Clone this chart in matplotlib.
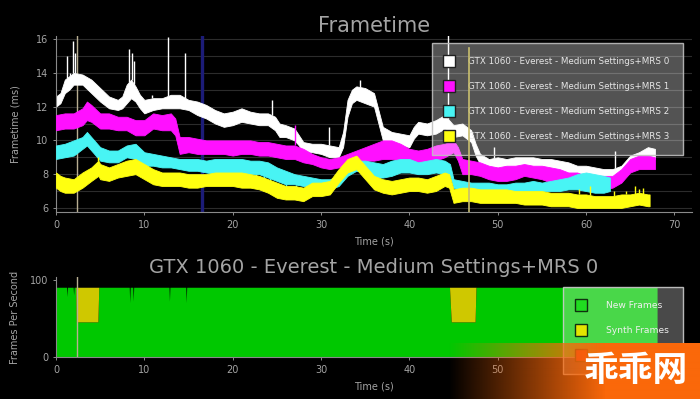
import numpy as np
import matplotlib.pyplot as plt
from matplotlib.lines import Line2D

# ---- frametime traces (ms): lower / upper envelope of each noisy trace ----
series_names = ['GTX 1060 - Everest - Medium Settings+MRS 0',
                'GTX 1060 - Everest - Medium Settings+MRS 1',
                'GTX 1060 - Everest - Medium Settings+MRS 2',
                'GTX 1060 - Everest - Medium Settings+MRS 3']

t_mrs0 = [0, 0.5, 1, 1.5, 2, 3, 4, 5, 6, 7,
          7.5, 8, 8.5, 9, 9.5, 10, 11, 12, 13, 14,
          15, 16, 17, 18, 19, 20, 21, 22, 23, 24,
          24.8, 25.3, 26, 27, 27.5, 28, 29, 30, 31, 32,
          32.5, 33, 33.5, 34, 35, 36, 36.5, 37, 38, 39,
          40, 40.5, 41, 42, 43, 44, 45, 46, 47, 47.5,
          48, 49, 50, 51, 52, 53, 54, 55, 56, 57,
          58, 59, 60, 61, 62, 63, 64, 65, 66, 67,
          67.8]
hi_mrs0 = [12.6, 12.8, 13.6, 13.8, 14.0, 13.9, 13.6, 13.1, 12.6, 12.4,
           12.6, 13.3, 13.6, 13.2, 12.7, 12.4, 12.5, 12.5, 12.7, 12.7,
           12.4, 12.3, 12.1, 11.8, 11.6, 11.7, 11.9, 11.7, 11.6, 11.6,
           11.4, 11.0, 10.9, 10.7, 10.3, 9.9, 9.8, 9.8, 9.7, 9.6,
           10.5, 12.4, 13.0, 13.2, 13.1, 12.8, 11.8, 10.8, 10.5, 10.4,
           10.3, 10.8, 11.1, 11.0, 11.2, 11.5, 10.9, 11.0, 10.6, 9.8,
           9.2, 8.9, 9.0, 8.9, 9.0, 9.0, 9.0, 8.9, 8.9, 8.8,
           8.7, 8.5, 8.5, 8.4, 8.3, 8.3, 8.5, 9.1, 9.3, 9.6,
           9.5]
lo_mrs0 = [12.0, 12.2, 12.8, 13.0, 13.3, 13.3, 12.8, 12.3, 11.9, 11.8,
           11.9, 12.2, 12.5, 12.3, 11.9, 11.6, 11.8, 11.9, 11.9, 11.9,
           11.8, 11.5, 11.3, 11.0, 10.8, 10.9, 11.1, 11.0, 10.9, 10.9,
           10.6, 10.2, 10.2, 10.0, 9.7, 9.3, 9.3, 9.2, 9.0, 9.0,
           9.6, 11.4, 12.2, 12.4, 12.2, 12.0, 11.0, 10.0, 9.8, 9.7,
           9.6, 10.1, 10.4, 10.3, 10.4, 10.7, 10.2, 10.3, 9.9, 9.1,
           8.6, 8.4, 8.3, 8.3, 8.4, 8.4, 8.3, 8.2, 8.2, 8.1,
           8.0, 7.9, 7.9, 7.8, 7.8, 7.8, 7.9, 8.4, 8.7, 9.0,
           8.9]
spike_t_mrs0 = [1.2, 1.6, 1.95, 2.2, 8.3, 8.55, 8.85, 10.9, 12.7, 14.6, 24.5, 30.9, 34.4, 44.4, 49.6, 63.3]
spike_v_mrs0 = [15.0, 14.0, 15.9, 15.2, 15.4, 15.2, 14.7, 12.7, 16.1, 15.2, 12.4, 10.8, 13.6, 16.3, 9.6, 9.4]

t_mrs1 = [0, 1, 2, 3, 3.5, 4, 5, 6, 7, 8,
          9, 10, 11, 12, 13, 13.5, 14, 15, 16, 17,
          18, 19, 20, 21, 22, 23, 24, 25, 26, 27,
          28, 29, 30, 31, 32, 33, 34, 35, 36, 37,
          38, 39, 40, 41, 42, 43, 44, 45, 45.5, 46,
          47, 48, 49, 50, 51, 52, 53, 54, 55, 56,
          57, 58, 59, 60, 61, 62, 63, 64, 65, 66,
          67, 67.8]
hi_mrs1 = [11.5, 11.6, 11.6, 11.9, 12.3, 12.1, 11.6, 11.6, 11.4, 11.4,
           11.2, 11.2, 11.6, 11.5, 11.6, 11.3, 10.2, 10.2, 10.1, 10.0,
           10.0, 10.0, 10.0, 10.0, 10.0, 9.9, 9.9, 9.8, 9.7, 9.7,
           9.5, 9.2, 9.0, 8.9, 9.0, 9.2, 9.4, 9.6, 9.8, 10.0,
           10.0, 9.8, 9.5, 9.4, 9.5, 9.7, 9.8, 10.0, 9.6, 8.9,
           8.8, 8.7, 8.5, 8.4, 8.5, 8.5, 8.6, 8.5, 8.5, 8.4,
           8.3, 8.1, 8.1, 7.9, 7.9, 7.9, 7.9, 8.3, 8.9, 9.1,
           9.1, 9.0]
lo_mrs1 = [10.6, 10.7, 10.7, 10.9, 11.2, 11.1, 10.7, 10.7, 10.6, 10.6,
           10.3, 10.3, 10.7, 10.6, 10.6, 10.3, 9.2, 9.3, 9.2, 9.2,
           9.2, 9.2, 9.1, 9.2, 9.2, 9.1, 9.1, 9.0, 8.9, 8.9,
           8.7, 8.6, 8.4, 8.3, 8.4, 8.6, 8.7, 8.8, 8.8, 8.9,
           8.9, 8.8, 8.5, 8.5, 8.7, 8.8, 9.0, 9.3, 8.8, 8.0,
           8.0, 7.9, 7.7, 7.6, 7.6, 7.7, 7.9, 7.8, 7.7, 7.5,
           7.5, 7.4, 7.3, 7.2, 7.2, 7.1, 7.2, 7.5, 8.1, 8.3,
           8.3, 8.3]
spike_t_mrs1 = [27.0]
spike_v_mrs1 = [10.9]

t_mrs2 = [0, 1, 2, 3, 3.5, 4, 5, 6, 7, 8,
          9, 10, 11, 12, 13, 14, 15, 16, 17, 18,
          19, 20, 21, 22, 23, 24, 25, 26, 27, 28,
          29, 30, 31, 32, 33, 34, 35, 36, 37, 38,
          39, 40, 41, 42, 43, 44, 44.6, 45, 46, 47,
          48, 49, 50, 51, 52, 53, 54, 55, 56, 57,
          58, 59, 60, 61, 62, 62.7]
hi_mrs2 = [9.7, 9.8, 10.0, 10.2, 10.5, 10.2, 9.6, 9.4, 9.4, 9.7,
           9.8, 9.3, 9.2, 9.1, 9.0, 8.9, 8.9, 8.9, 8.8, 8.9,
           8.9, 8.9, 8.9, 8.8, 8.8, 8.7, 8.4, 8.2, 8.0, 7.9,
           7.8, 7.7, 7.7, 7.9, 8.5, 8.8, 8.8, 8.7, 8.6, 8.8,
           8.9, 8.9, 8.7, 8.8, 8.9, 8.8, 8.6, 7.7, 7.6, 7.5,
           7.5, 7.5, 7.4, 7.4, 7.5, 7.5, 7.6, 7.5, 7.6, 7.7,
           7.8, 8.0, 8.1, 8.0, 7.9, 7.8]
lo_mrs2 = [8.9, 9.0, 9.1, 9.5, 9.7, 9.4, 8.8, 8.7, 8.7, 9.0,
           8.9, 8.5, 8.5, 8.4, 8.4, 8.3, 8.2, 8.2, 8.1, 8.0,
           8.0, 8.0, 8.0, 8.0, 8.0, 7.8, 7.6, 7.4, 7.4, 7.3,
           7.2, 7.1, 7.1, 7.3, 7.9, 8.2, 8.1, 7.8, 7.8, 7.9,
           8.1, 8.1, 8.0, 8.0, 8.1, 8.0, 7.9, 7.2, 7.0, 7.0,
           6.9, 6.9, 6.9, 6.9, 6.9, 7.0, 7.0, 7.0, 7.0, 7.0,
           7.1, 7.1, 7.0, 6.9, 6.9, 7.0]
spike_t_mrs2 = [20.5, 21.8, 22.6, 23.5, 24.2, 26.0, 27.2, 28.3]
spike_v_mrs2 = [7.6, 7.5, 7.6, 7.3, 7.2, 7.1, 7.2, 7.0]

t_mrs3 = [0, 0.5, 1, 2, 3, 4, 4.8, 5, 6, 7,
          8, 9, 10, 11, 12, 13, 14, 15, 16, 17,
          18, 19, 20, 21, 22, 23, 24, 25, 26, 27,
          28, 29, 30, 31, 32, 33, 34, 35, 36, 37,
          38, 39, 40, 41, 42, 43, 44, 44.5, 45, 46,
          47, 48, 49, 50, 51, 52, 53, 54, 55, 56,
          57, 58, 59, 60, 61, 62, 63, 64, 65, 66,
          67, 67.2]
hi_mrs3 = [8.1, 7.9, 7.8, 7.7, 8.1, 8.4, 8.8, 8.6, 8.4, 8.6,
           8.8, 8.9, 8.6, 8.3, 8.1, 8.1, 8.1, 8.0, 8.0, 8.0,
           8.1, 8.1, 8.1, 8.1, 8.0, 7.9, 7.7, 7.5, 7.3, 7.3,
           7.2, 7.5, 7.5, 7.6, 8.3, 8.9, 9.1, 8.5, 7.9, 7.7,
           7.6, 7.7, 7.8, 7.8, 7.7, 7.9, 8.1, 8.0, 7.1, 7.2,
           7.2, 7.1, 7.1, 7.1, 7.1, 7.0, 7.0, 7.0, 7.0, 6.9,
           6.9, 6.9, 6.8, 6.8, 6.7, 6.7, 6.7, 6.8, 6.8, 6.9,
           6.8, 6.8]
lo_mrs3 = [7.2, 7.0, 6.9, 6.9, 7.2, 7.6, 7.9, 7.7, 7.6, 7.8,
           7.9, 8.0, 7.7, 7.4, 7.3, 7.3, 7.3, 7.2, 7.2, 7.3,
           7.3, 7.3, 7.3, 7.2, 7.2, 7.1, 6.9, 6.6, 6.5, 6.5,
           6.4, 6.7, 6.7, 6.8, 7.5, 8.1, 8.3, 7.7, 7.1, 6.9,
           6.8, 6.9, 7.0, 7.0, 6.9, 7.0, 7.3, 7.2, 6.3, 6.4,
           6.4, 6.3, 6.3, 6.3, 6.3, 6.3, 6.2, 6.2, 6.2, 6.1,
           6.1, 6.1, 6.0, 6.0, 6.0, 6.0, 6.0, 6.0, 6.1, 6.2,
           6.1, 6.1]
spike_t_mrs3 = [4.8, 59.2, 60.5, 63.2, 64.5, 65.5, 66.0, 66.5]
spike_v_mrs3 = [9.0, 7.1, 7.3, 7.0, 7.0, 7.3, 7.1, 7.2]

# marker lines on the frametime chart (s)
marker_beige_t = 2.4
marker_blue_t = 16.5
marker_yellow_t = 46.7

# ---- frames per second, MRS 0 ----
t_fps = [0, 1.25, 1.3, 1.35, 2.0, 2.05, 2.1, 2.3, 2.35, 4.8,
         4.9, 8.35, 8.4, 8.45, 8.75, 8.8, 8.85, 12.85, 12.9, 12.95,
         14.75, 14.8, 14.85, 44.6, 44.8, 47.5, 47.6, 68.1]
new_fps = [90, 90, 78, 90, 90, 80, 90, 90, 45, 45,
           90, 90, 70, 90, 90, 72, 90, 90, 72, 90,
           90, 70, 90, 90, 45, 45, 90, 90]
synth_fps = [0, 0, 0, 0, 0, 0, 0, 0, 45, 45,
             0, 0, 0, 0, 0, 0, 0, 0, 0, 0,
             0, 0, 0, 0, 45, 45, 0, 0]
fps_names = ['New Frames', 'Synth Frames', '']
# the last two x labels of the lower chart sit under the watermark
fps_xticklabels = ['0', '10', '20', '30', '40', '50', '', '']

colors = ['#ffffff', '#ff10ff', '#48f4f4', '#ffff10']
txt = '#a4a4a4'
spine = '#8a8a8a'

plt.rcParams['font.family'] = ['DejaVu Sans']

fig = plt.figure(figsize=(7, 3.99), dpi=100, facecolor='black')
ax1 = fig.add_axes([0.08, 0.4687, 0.9086, 0.441])
ax2 = fig.add_axes([0.08, 0.1053, 0.9086, 0.2005])

for ax in (ax1, ax2):
    ax.set_facecolor('black')
    for s in ['top', 'right']:
        ax.spines[s].set_visible(False)
    for s in ['left', 'bottom']:
        ax.spines[s].set_color(spine)
    ax.tick_params(colors=txt, labelsize=7, length=2, width=0.6)
    ax.set_xlim(0, 72)
    ax.set_xticks(range(0, 71, 10))

# --- top panel ---
ax1.set_ylim(5.76, 16.18)
ax1.set_yticks([6, 8, 10, 12, 14, 16])
for yv in range(6, 17):
    ax1.axhline(yv, color='#2c2c2c', lw=0.8, zorder=0)

ax1.axvline(marker_beige_t, color='#b8ae92', lw=1.0, zorder=1)
ax1.axvline(marker_blue_t, color='#1c1c78', lw=2.4, zorder=1)
ax1.axvline(marker_yellow_t, ymax=0.93, color='#c8be6e', lw=1.2, zorder=6)

bands = [(t_mrs0, lo_mrs0, hi_mrs0, spike_t_mrs0, spike_v_mrs0),
         (t_mrs1, lo_mrs1, hi_mrs1, spike_t_mrs1, spike_v_mrs1),
         (t_mrs2, lo_mrs2, hi_mrs2, spike_t_mrs2, spike_v_mrs2),
         (t_mrs3, lo_mrs3, hi_mrs3, spike_t_mrs3, spike_v_mrs3)]
for i, (t, lo, hi, st, sv) in enumerate(bands):
    ax1.fill_between(t, lo, hi, color=colors[i], lw=0.6, edgecolor=colors[i], zorder=2 + i)
    base = np.where(np.array(sv) > np.interp(st, t, hi), np.interp(st, t, hi), np.interp(st, t, lo))
    ax1.vlines(st, base, sv, color=colors[i], lw=1.0, zorder=2 + i)

ax1.set_title('Frametime', color=txt, fontsize=15, pad=3)
ax1.set_xlabel('Time (s)', color=txt, fontsize=7, labelpad=5)
ax1.set_ylabel('Frametime (ms)', color=txt, fontsize=7)
ax1.yaxis.set_label_coords(-0.056, 0.5)

handles = [Line2D([], [], ls='none', marker='s', markersize=8, markerfacecolor=c,
                  markeredgecolor='#202020', markeredgewidth=1.0) for c in colors]
leg = ax1.legend(handles, series_names, loc='upper right', bbox_to_anchor=(0.986, 0.96),
                 borderaxespad=0, fontsize=6.3, labelcolor='#e6e6e6', handlelength=0.7,
                 handletextpad=1.8, borderpad=1.6, labelspacing=1.82, fancybox=False)
fr = leg.get_frame()
fr.set_alpha(None)
fr.set_facecolor((1, 1, 1, 0.33))
fr.set_edgecolor((0.75, 0.75, 0.75, 0.9))
fr.set_linewidth(1.0)

# --- bottom panel ---
ax2.set_ylim(0, 104)
ax2.set_yticks([0, 100])
ax2.set_xticklabels(fps_xticklabels)
ax2.stackplot(t_fps, new_fps, synth_fps, colors=['#00c800', '#cfc800'], lw=0, zorder=2)
ax2.axvline(marker_beige_t, color='#b8ae92', lw=1.0, zorder=3)
ax2.set_title('GTX 1060 - Everest - Medium Settings+MRS 0', color=txt, fontsize=14, pad=2)
ax2.set_xlabel('Time (s)', color=txt, fontsize=7, labelpad=5)
ax2.set_ylabel('Frames Per Second', color=txt, fontsize=7)
ax2.yaxis.set_label_coords(-0.056, 0.5)

fps_handles = [Line2D([], [], ls='none', marker='s', markersize=8, markerfacecolor=c,
                      markeredgecolor='#103010', markeredgewidth=1.0)
               for c in ['#20dd20', '#e4e400', '#e02020']]
leg2 = ax2.legend(fps_handles, fps_names, loc='upper right', bbox_to_anchor=(0.986, 0.875),
                  borderaxespad=0, fontsize=6.6, labelcolor='#f0f0f0', handlelength=0.7,
                  handletextpad=2.4, borderpad=1.55, labelspacing=1.75, fancybox=False)
fr2 = leg2.get_frame()
fr2.set_alpha(None)
fr2.set_facecolor((1, 1, 1, 0.29))
fr2.set_edgecolor((0.8, 0.8, 0.8, 0.9))
fr2.set_linewidth(1.0)

# --- watermark band ---
wm = fig.add_axes([0, 0, 1, 1], zorder=10)
wm.set_xlim(0, 700)
wm.set_ylim(399, 0)
wm.axis('off')
ramp = np.clip(np.linspace(-0.05, 1.6, 260), 0, 1)
grad = np.zeros((1, 260, 4))
grad[..., 0] = 250 / 255
grad[..., 1] = 104 / 255
grad[..., 2] = 10 / 255
grad[..., 3] = ramp
wm.imshow(grad, extent=(440, 700, 399, 343), aspect='auto', interpolation='bilinear')
wm.text(636, 371, '乖乖网', color='white', fontsize=25, fontweight='bold',
        family=['Noto Sans CJK SC', 'DejaVu Sans'], ha='center', va='center')

fig.savefig('out.png', dpi=100, facecolor='black')
